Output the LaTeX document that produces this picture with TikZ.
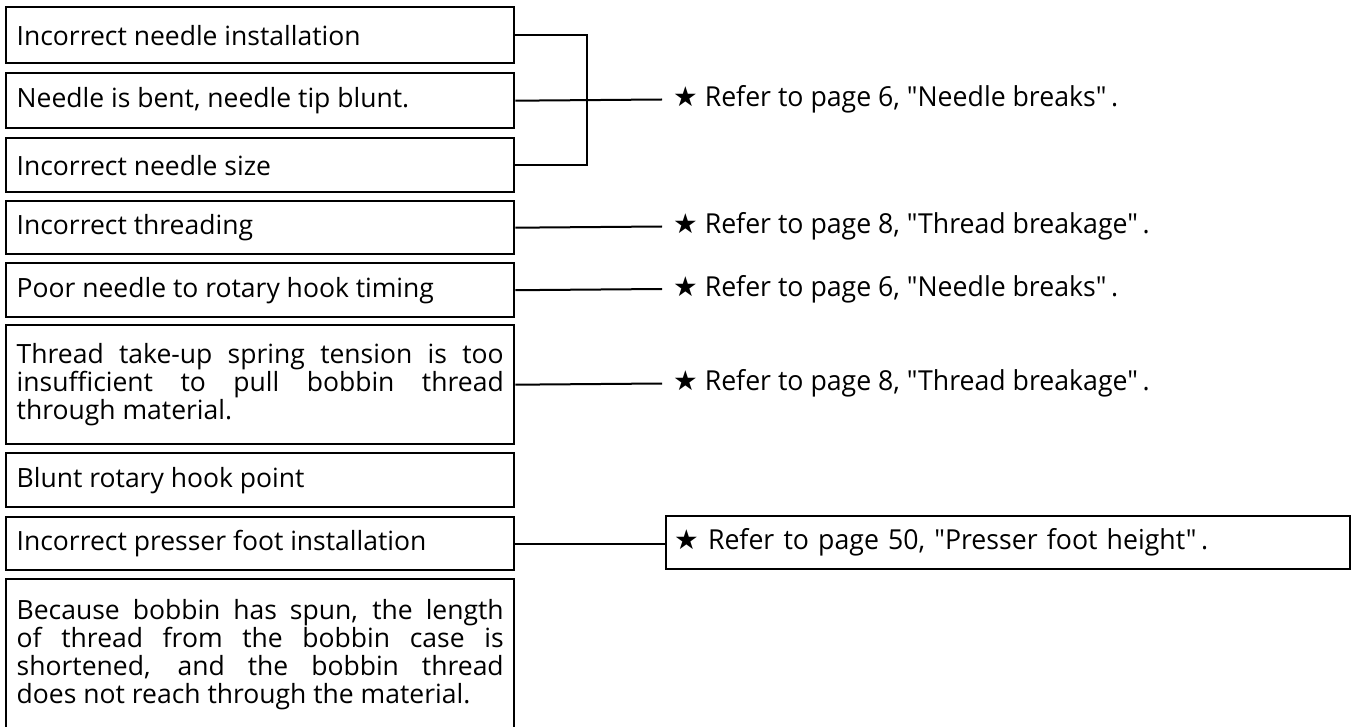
\documentclass[tikz,border=0pt]{standalone}
\usepackage{fontspec}
\setmainfont{Open Sans}
\newfontfamily\reffont[FakeStretch=0.97]{Open Sans}
\newfontfamily\starfont{DejaVu Sans}
\hyphenpenalty=10000
\exhyphenpenalty=10000
\newcommand{\refstar}{{\starfont ★}}

\begin{document}
\begin{tikzpicture}[x=1pt, y=-1pt,
		cause/.style={draw, rectangle, line width=2.4pt, anchor=north west, minimum width=508pt, text width=487pt, inner xsep=9pt, align=justify, font=\fontsize{26.5}{28}\selectfont},
		refer/.style={anchor=west, inner xsep=11pt, font=\reffont\fontsize{27.5}{28}\selectfont},
		link/.style={line width=2pt}]
		\useasboundingbox (0,0) rectangle (1355,727);

		%––––– needle –––––
		\node[cause, minimum height=56pt] (b1) at (5,6) {Incorrect needle installation};
		\node[cause, minimum height=55pt] (b2) at (5,72) {Needle is bent, needle tip blunt.};
		\node[cause, minimum height=54pt] (b3) at (5,137) {Incorrect needle size};

		\coordinate (j1) at (587,99.5);
		\node[refer] (r1) at (662,99.5) {\refstar\ Refer to page 6, "Needle breaks"\,.};
		\draw[link] (b1.east) -| (j1) |- (b3.east);
		\draw[link] (b2.east) -- (r1.west);

		%––––– threading / timing –––––
		\node[cause, minimum height=53pt] (b4) at (5,200) {Incorrect threading};
		\node[refer] (r2) at (662,226.5) {\refstar\ Refer to page 8, "Thread breakage"\,.};
		\draw[link] (b4.east) -- (r2.west);

		\node[cause, minimum height=54pt] (b5) at (5,262) {Poor needle to rotary hook timing};
		\node[refer] (r3) at (662,289) {\refstar\ Refer to page 6, "Needle breaks"\,.};
		\draw[link] (b5.east) -- (r3.west);

		\node[cause, minimum height=119pt]
			(b6)
			at
			(5,324)
			{Thread take-up spring tension is too\linebreak insufficient to pull bobbin thread\linebreak through material.};
		\node[refer] (r4) at (662,383.5) {\refstar\ Refer to page 8, "Thread breakage"\,.};
		\draw[link] (b6.east) -- (r4.west);

		%––––– hook / presser foot –––––
		\node[cause, minimum height=54pt] (b7) at (5,452) {Blunt rotary hook point};
		\node[cause, minimum height=53pt] (b8) at (5,516) {Incorrect presser foot installation};

		\node[refer, draw, line width=2.4pt, anchor=north west, minimum width=684pt, minimum height=53pt, text width=668pt, inner xsep=8pt, align=left]
			(r5)
			at
			(665,515)
			{\refstar\ Refer to page 50, "Presser foot height"\,.};
		\draw[link] (b8.east) -- (b8.east -| r5.west);

		%––––– bobbin –––––
		\node[cause, minimum height=150pt]
			(b9)
			at
			(5,578)
			{Because bobbin has spun, the length\linebreak of thread from the bobbin case is\linebreak shortened, and the bobbin thread\linebreak does not reach through the material.};
	\end{tikzpicture}
\end{document}
